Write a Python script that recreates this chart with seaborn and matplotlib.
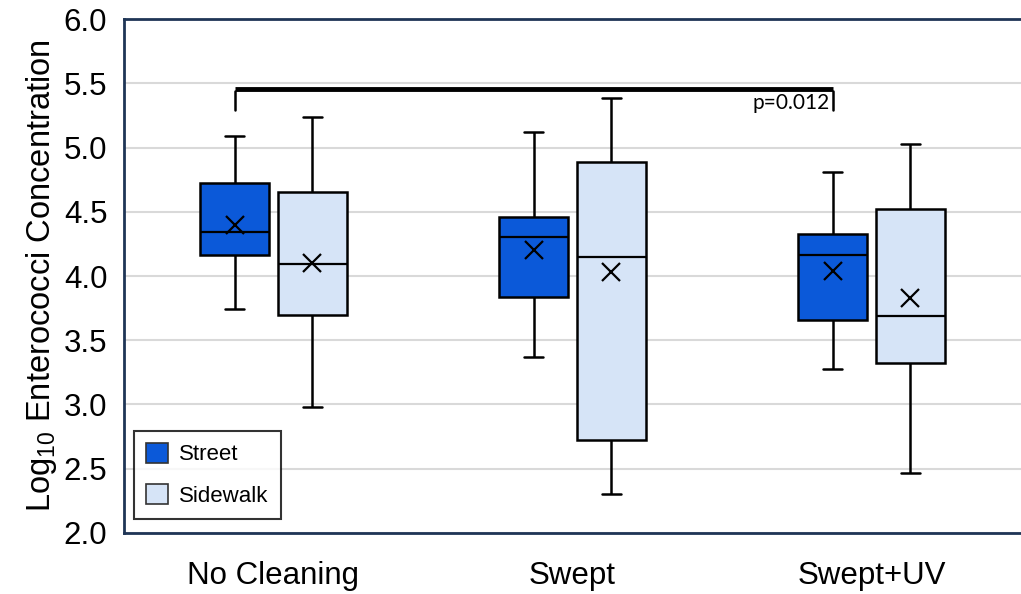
import seaborn as sns
import matplotlib.pyplot as plt
import pandas as pd
import numpy as np
from matplotlib.patches import Patch

# categorias y grupos
treatments = ["No Cleaning", "Swept", "Swept+UV"]
surfaces = ["Street", "Sidewalk"]

# estadisticos (orden: NC, Swept, UV)
street_low = [3.74, 3.37, 3.28]
street_q1 = [4.16, 3.84, 3.66]
street_med = [4.34, 4.30, 4.16]
street_q3 = [4.72, 4.46, 4.33]
street_high = [5.09, 5.12, 4.81]
street_mean = [4.40, 4.20, 4.04]

side_low = [2.98, 2.30, 2.47]
side_q1 = [3.70, 2.72, 3.32]
side_med = [4.09, 4.15, 3.69]
side_q3 = [4.65, 4.89, 4.52]
side_high = [5.24, 5.385, 5.03]
side_mean = [4.10, 4.03, 3.83]

yticks = [2.0, 2.5, 3.0, 3.5, 4.0, 4.5, 5.0, 5.5, 6.0]

# tabla larga: 5 puntos por caja -> cuartiles exactos
rows = []
for i, t in enumerate(treatments):
    for v in [street_low[i], street_q1[i], street_med[i], street_q3[i], street_high[i]]:
        rows.append({"treatment": t, "surface": "Street", "value": v})
    for v in [side_low[i], side_q1[i], side_med[i], side_q3[i], side_high[i]]:
        rows.append({"treatment": t, "surface": "Sidewalk", "value": v})
df = pd.DataFrame(rows)

colors = {"Street": "#0b59d9", "Sidewalk": "#d6e4f7"}
navy = "#1f3556"

sns.set_style("white")
plt.rcParams["font.family"] = ["Liberation Sans", "DejaVu Sans"]
plt.rcParams["mathtext.fontset"] = "custom"
plt.rcParams["mathtext.rm"] = "Liberation Sans"
plt.rcParams["text.color"] = "black"
plt.rcParams["axes.labelcolor"] = "black"
plt.rcParams["xtick.color"] = "black"
plt.rcParams["ytick.color"] = "black"

fig = plt.figure(figsize=(10.21, 5.94), dpi=100)
ax = fig.add_axes([0.1214, 0.1027, 0.8786, 0.8653])

ax.yaxis.grid(True, color="#d9d9d9", linewidth=1.5, zorder=0)
ax.set_axisbelow(True)

bw = 0.52
sns.boxplot(data=df, x="treatment", y="value", hue="surface", order=treatments,
            hue_order=surfaces, palette=colors, saturation=1, width=bw, gap=0.12, whis=10,
            linecolor="black", linewidth=1.8, fliersize=0, ax=ax, legend=False,
            medianprops={"linewidth": 1.6},
            capprops={"linewidth": 1.8},
            capwidths=0.065)

# medias (x)
off = bw / 4
for i in range(len(treatments)):
    ax.plot(i - off, street_mean[i], marker="x", color="black", ms=13, mew=1.6, zorder=5)
    ax.plot(i + off, side_mean[i], marker="x", color="black", ms=13, mew=1.6, zorder=5)

# barra de significancia
x0, x1 = 0 - off, 2 - off
ax.plot([x0, x0], [5.29, 5.44], color="black", lw=1.8, zorder=4)
ax.plot([x0, x1], [5.455, 5.455], color="black", lw=3.5, solid_capstyle="butt", zorder=4)
ax.plot([x1, x1], [5.44, 5.29], color="black", lw=1.8, zorder=4)
ax.text(x1 - 0.01, 5.35, "p=0.012", ha="right", va="center", fontsize=15,
        family=["Lato", "DejaVu Sans"])

ax.set_xlim(-0.5, 2.5)
ax.set_ylim(2.0, 6.0)
ax.set_yticks(yticks)
ax.set_yticklabels([f"{v:.1f}" for v in yticks])
ax.tick_params(axis="y", labelsize=22.5, length=8, width=1.5, color=navy, direction="out", pad=4)
ax.tick_params(axis="x", labelsize=22.5, length=0, pad=20)
ax.set_xlabel("")
ax.set_ylabel(r"Log$_{10}$ Enterococci Concentration", fontsize=23.5, labelpad=3)

for s in ["left", "top", "bottom"]:
    ax.spines[s].set_color(navy)
    ax.spines[s].set_linewidth(2)
ax.spines["right"].set_visible(False)

handles = [Patch(facecolor=colors[s], edgecolor="#333333", linewidth=1.2, label=s) for s in surfaces]
leg = ax.legend(handles=handles, loc="lower left", bbox_to_anchor=(0.011, 0.027),
                fontsize=16, frameon=True, fancybox=False, edgecolor="black",
                handlelength=1.0, handleheight=1.0, labelspacing=0.85,
                borderpad=0.55, handletextpad=0.5, borderaxespad=0)
leg.get_frame().set_linewidth(1.5)

fig.savefig("out.png", dpi=100)
